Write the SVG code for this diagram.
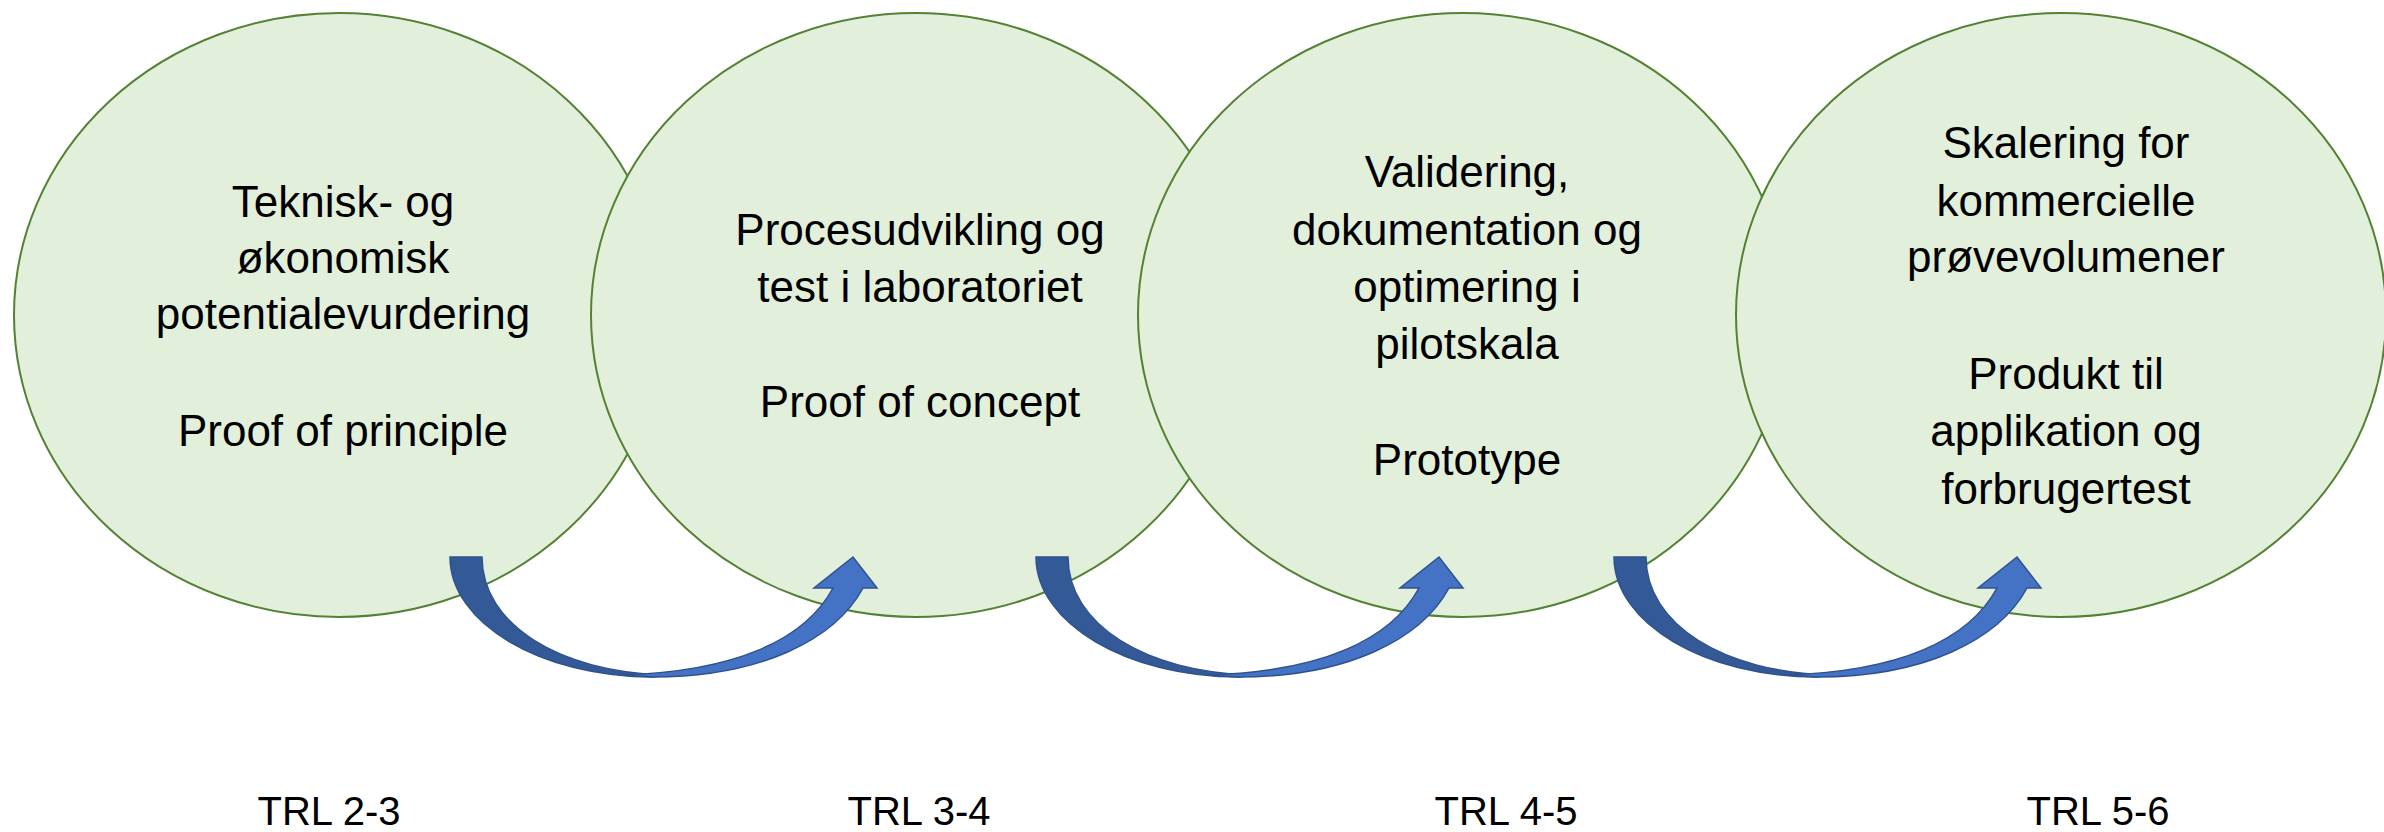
<svg xmlns="http://www.w3.org/2000/svg" width="2384" height="832" viewBox="0 0 2384 832">
<style>
.node ellipse{fill:#E2EFDA;stroke:#548235;stroke-width:2}
.t{font-family:"Liberation Sans",Arial,sans-serif;font-size:44px;fill:#000;text-anchor:middle}
.trl{font-family:"Liberation Sans",Arial,sans-serif;font-size:40px;fill:#000;text-anchor:middle}
.dark{fill:#335A96;stroke:#2F528F;stroke-width:1.5;stroke-linejoin:miter}
.light{fill:#4472C4;stroke:#2F528F;stroke-width:1.5;stroke-linejoin:miter}
</style>
<defs>
<g id="curvedArrow">
<path class="dark" d="M450,557 L482,557 C482,625 560,672 665,675 L653,677 C541,677 450,623 450,557 Z"/>
<path class="light" d="M653,677 C760,677 835,640 863,588 L877,588 L853,557 L814,588 L833,588 C805,640 735,672 620,675 Z"/>
</g>
</defs>
<rect width="2384" height="832" fill="#FFFFFF"/>
<g id="node1" class="node">
<ellipse cx="339" cy="315" rx="325" ry="302"/>
<text class="t" x="343" y="217">Teknisk- og</text>
<text class="t" x="343" y="273">økonomisk</text>
<text class="t" x="343" y="329">potentialevurdering</text>
<text class="t" x="343" y="446">Proof of principle</text>
</g>
<g id="node2" class="node">
<ellipse cx="916" cy="315" rx="325" ry="302"/>
<text class="t" x="920" y="245">Procesudvikling og</text>
<text class="t" x="920" y="302">test i laboratoriet</text>
<text class="t" x="920" y="417">Proof of concept</text>
</g>
<g id="node3" class="node">
<ellipse cx="1463" cy="315" rx="325" ry="302"/>
<text class="t" x="1467" y="187">Validering,</text>
<text class="t" x="1467" y="245">dokumentation og</text>
<text class="t" x="1467" y="302">optimering i</text>
<text class="t" x="1467" y="359">pilotskala</text>
<text class="t" x="1467" y="475">Prototype</text>
</g>
<g id="node4" class="node">
<ellipse cx="2061" cy="315" rx="325" ry="302"/>
<text class="t" x="2066" y="158">Skalering for</text>
<text class="t" x="2066" y="216">kommercielle</text>
<text class="t" x="2066" y="272">prøvevolumener</text>
<text class="t" x="2066" y="389">Produkt til</text>
<text class="t" x="2066" y="446">applikation og</text>
<text class="t" x="2066" y="504">forbrugertest</text>
</g>
<g id="connectors">
<use href="#curvedArrow"/>
<use href="#curvedArrow" transform="translate(586,0)"/>
<use href="#curvedArrow" transform="translate(1164,0)"/>
</g>
<g id="labels">
<text class="trl" x="329" y="825">TRL 2-3</text>
<text class="trl" x="919" y="825">TRL 3-4</text>
<text class="trl" x="1506" y="825">TRL 4-5</text>
<text class="trl" x="2098" y="825">TRL 5-6</text>
</g>
</svg>
